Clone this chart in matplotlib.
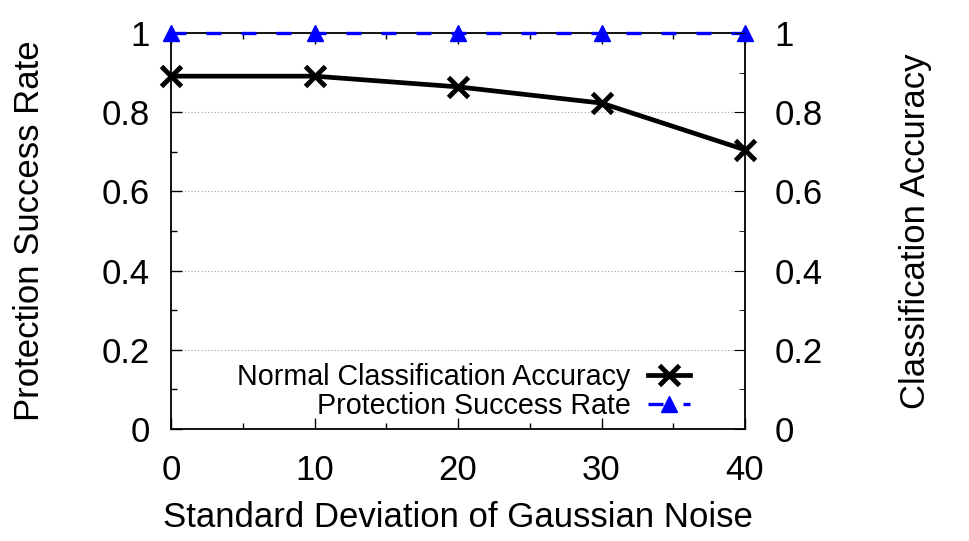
import matplotlib
matplotlib.use("Agg")
import matplotlib.pyplot as plt
from matplotlib.ticker import MultipleLocator

plt.rcParams['font.family'] = ['Liberation Sans', 'DejaVu Sans']

noise_std = [0, 10, 20, 30, 40]
normal_acc = [0.891, 0.891, 0.864, 0.823, 0.705]
protect_rate = [1.0, 1.0, 1.0, 1.0, 1.0]
yticks = [0, 0.2, 0.4, 0.6, 0.8, 1]
ytick_labels = ['0', '0.2', '0.4', '0.6', '0.8', '1']

fig = plt.figure(figsize=(9.69, 5.41), dpi=100)
W, H = 969, 541
ax = fig.add_axes([171 / W, 1 - 429 / H, (745 - 171) / W, (429 - 33) / H])

ax.plot(noise_std, normal_acc, color='black', lw=3.4, marker='x', ms=14, mew=3.5,
        label='Normal Classification Accuracy', clip_on=False, zorder=4)
ax.plot(noise_std, protect_rate, color='#0000ff', lw=2.4, ls=(0, (4.5, 6)), marker='^',
        ms=11, label='Protection Success Rate', clip_on=False, zorder=5)

ax.set_xlim(0, 40)
ax.set_ylim(0, 1)
ax.set_xticks(noise_std)
ax.xaxis.set_minor_locator(MultipleLocator(5))
ax.set_yticks(yticks)
ax.set_yticklabels(ytick_labels)
ax.yaxis.set_minor_locator(MultipleLocator(0.1))
ax.grid(axis='y', which='major', color='#a0a0a0', ls=(0, (1, 2)), lw=0.8)
for s in ax.spines.values():
    s.set_linewidth(1.3)

ax.tick_params(axis='both', which='major', direction='in', length=8, width=1.0,
               labelsize=25, top=True, right=True)
ax.tick_params(axis='both', which='minor', direction='in', length=4, width=1.0,
               top=True, right=True)
ax.tick_params(axis='y', which='major', pad=15)
ax.tick_params(axis='x', which='major', pad=18)

ax2 = ax.twinx()
ax2.set_ylim(0, 1)
ax2.set_yticks(yticks)
ax2.set_yticklabels(ytick_labels)
ax2.yaxis.set_minor_locator(MultipleLocator(0.1))
ax2.tick_params(axis='y', which='major', direction='in', length=8, labelsize=25, pad=21)
ax2.tick_params(axis='y', which='minor', direction='in', length=4)
for s in ax2.spines.values():
    s.set_visible(False)

ax.set_xlabel('Standard Deviation of Gaussian Noise', fontsize=25, labelpad=10)
fig.text(30 / W, 1 - 231 / H, 'Protection Success Rate', rotation=90, fontsize=25,
         ha='center', va='center')
fig.text(915 / W, 1 - 231 / H, 'Classification Accuracy', rotation=90, fontsize=25,
         ha='center', va='center')

leg = ax.legend(loc='lower right', bbox_to_anchor=(0.905, 0.022), frameon=False,
                markerfirst=False, fontsize=20.6, handlelength=1.5, handletextpad=0.6,
                labelspacing=0.05, borderaxespad=0.0, borderpad=0.0)
for t in leg.get_texts():
    t.set_ha('right')
leg._legend_box.align = 'right'

fig.savefig('out.png', dpi=100)
